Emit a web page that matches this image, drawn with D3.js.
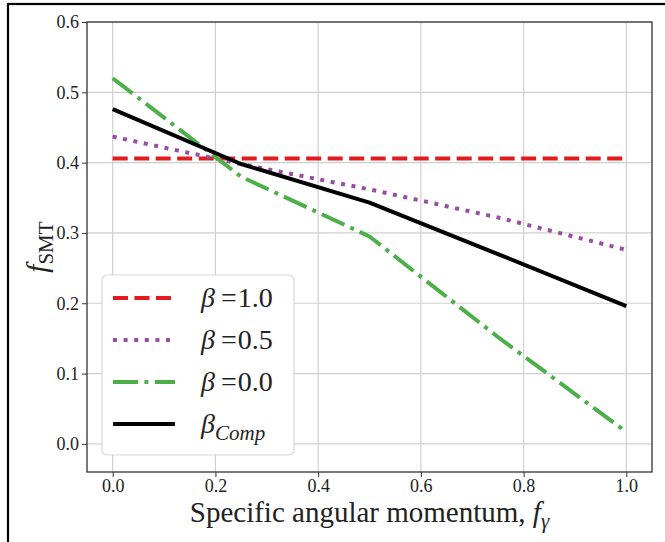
<!DOCTYPE html>
<html>
<head>
<meta charset="utf-8">
<script src="https://cdn.jsdelivr.net/npm/d3@7"></script>
<style>
  body { margin: 0; background: #fff; }
  #dataviz { width: 665px; height: 542px; }
  text { font-family: "Liberation Serif", "DejaVu Serif", serif; fill: #222; }
</style>
</head>
<body>
<div id="dataviz"></div>
<script>
// values
var fGamma = [0, 0.25, 0.5, 0.75, 1.0];
var beta10 = [0.406, 0.406, 0.406, 0.406, 0.406];
var beta05 = [0.437, 0.398, 0.362, 0.322, 0.276];
var beta00 = [0.520, 0.380, 0.295, 0.152, 0.017];
var betaComp = [0.476, 0.398, 0.343, 0.270, 0.196];

var xTicks = [0, 0.2, 0.4, 0.6, 0.8, 1.0];
var yTicks = [0, 0.1, 0.2, 0.3, 0.4, 0.5, 0.6];

var seriesNames = ["1.0", "0.5", "0.0", "Comp"];
var seriesColors = ["#e41a1c", "#984ea3", "#4daf4a", "#000000"];
var seriesDash = ["15,6.5", "4,6.6", "25,6.4,4,6.4", null];

buildChart();

function buildChart(){
    var width = 665, height = 542;
    var margin = {top: 22, right: 13, bottom: 70, left: 87};

    var svg = d3.select("#dataviz")
    .append("svg")
        .attr("width", width)
        .attr("height", height);

    // outer frame of the original screenshot
    svg.append("rect")
        .attr("x", 8).attr("y", 4)
        .attr("width", width + 10).attr("height", height + 10)
        .attr("fill", "none")
        .attr("stroke", "#000")
        .style("stroke-width", "2.2px");

    var w = width - margin.left - margin.right;
    var h = height - margin.top - margin.bottom;

    var g = svg.append("g")
        .attr("transform", "translate(" + margin.left + "," + margin.top + ")");

    var x = d3.scaleLinear().domain([-0.05, 1.05]).range([0, w]);
    var y = d3.scaleLinear().domain([-0.04, 0.6]).range([h, 0]);

    // grid
    g.append("g").selectAll("line").data(xTicks).enter().append("line")
        .attr("x1", function(d){ return x(d); }).attr("x2", function(d){ return x(d); })
        .attr("y1", 0).attr("y2", h)
        .attr("stroke", "#d0d0d0").style("stroke-width", "1.2px");
    g.append("g").selectAll("line").data(yTicks).enter().append("line")
        .attr("y1", function(d){ return y(d); }).attr("y2", function(d){ return y(d); })
        .attr("x1", 0).attr("x2", w)
        .attr("stroke", "#d0d0d0").style("stroke-width", "1.2px");

    // axes
    var xAxis = g.append("g")
        .attr("transform", "translate(0," + h + ")")
        .call(d3.axisBottom(x).tickValues(xTicks).tickFormat(d3.format(".1f")).tickSize(5).tickPadding(2));
    var yAxis = g.append("g")
        .call(d3.axisLeft(y).tickValues(yTicks).tickFormat(d3.format(".1f")).tickSize(5).tickPadding(3));
    [xAxis, yAxis].forEach(function(a){
        a.attr("font-family", null).attr("font-size", null);
        a.select(".domain").remove();
        a.selectAll("line").attr("stroke", "#333");
        a.selectAll("text")
            .attr("font-family", "Liberation Serif, serif")
            .attr("font-size", 18)
            .style("font-size", "18px")
            .attr("fill", "#333");
    });

    // lines
    var allSeries = [beta10, beta05, beta00, betaComp];
    var line = d3.line()
        .x(function(d, i){ return x(fGamma[i]); })
        .y(function(d){ return y(d); });

    allSeries.forEach(function(s, k){
        g.append("path")
            .datum(s)
            .attr("d", line)
            .attr("fill", "none")
            .attr("stroke", seriesColors[k])
            .attr("stroke-dasharray", seriesDash[k])
            .attr("stroke-linejoin", "round")
            .style("stroke-width", "4px");
    });

    // plot frame
    g.append("rect")
        .attr("width", w).attr("height", h)
        .attr("fill", "none")
        .attr("stroke", "#333")
        .style("stroke-width", "1.3px");

    // legend
    var legend = g.append("g")
        .attr("transform", "translate(" + (x(-0.05) + 15) + "," + (y(0.6) + 253) + ")");
    legend.append("rect")
        .attr("width", 192).attr("height", 180)
        .attr("rx", 5)
        .attr("fill", "#fff")
        .attr("stroke", "#d8d8d8")
        .style("stroke-width", "1.2px");

    seriesNames.forEach(function(name, k){
        var ly = 23 + k * 42;
        legend.append("line")
            .attr("x1", 11).attr("x2", 73)
            .attr("y1", ly).attr("y2", ly)
            .attr("stroke", seriesColors[k])
            .attr("stroke-dasharray", seriesDash[k])
            .style("stroke-width", "4px");
        var t = legend.append("text")
            .attr("x", 99).attr("y", ly + 9)
            .style("font-size", "28px")
            .attr("fill", "#222");
        t.append("tspan").style("font-style", "italic").text("β");
        if (k < 3) {
            t.append("tspan").attr("dx", 6).text("=");
            t.append("tspan").attr("dx", 1).text(name);
        } else {
            t.append("tspan").attr("dy", 7).style("font-style", "italic")
                .style("font-size", "21px").text(name);
        }
    });

    // x axis label
    var xl = svg.append("text")
        .attr("x", margin.left + w / 2)
        .attr("y", 522)
        .style("font-size", "29px")
        .style("text-anchor", "middle");
    xl.append("tspan").text("Specific angular momentum, ");
    xl.append("tspan").style("font-style", "italic").text("f");
    xl.append("tspan").attr("dy", 6).style("font-style", "italic").style("font-size", "21px").text("γ");

    // y axis label
    var yl = svg.append("text")
        .attr("transform", "translate(47," + (margin.top + h / 2) + ") rotate(-90)")
        .style("font-size", "29px")
        .style("text-anchor", "middle");
    yl.append("tspan").style("font-style", "italic").text("f");
    yl.append("tspan").attr("dy", 6).style("font-size", "21px").text("SMT");
}
</script>
</body>
</html>
